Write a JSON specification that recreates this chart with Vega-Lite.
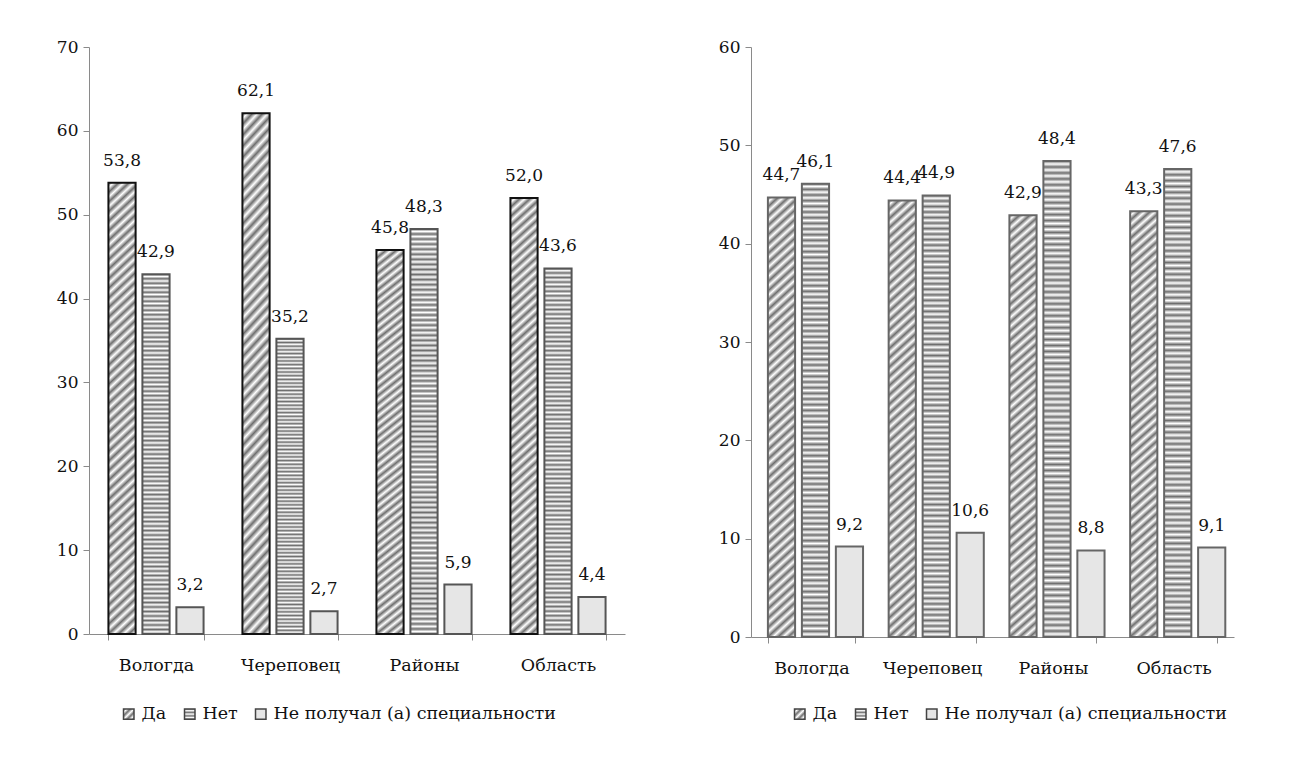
{
  "$schema": "https://vega.github.io/schema/vega-lite/v6.json",
  "padding": {"left": 56, "top": 38, "right": 5, "bottom": 5},
  "background": "white",
  "config": {
    "locale": {"number": {"decimal": ",", "thousands": " ", "grouping": [3], "currency": ["", " ₽"]}},
    "font": "DejaVu Serif",
    "view": {"stroke": null},
    "axis": {"labelFont": "DejaVu Serif", "labelFontSize": 17, "labelColor": "#111", "domainColor": "#8a8a8a", "tickColor": "#8a8a8a", "tickSize": 6, "grid": false, "title": null},
    "legend": {"orient": "none", "direction": "horizontal", "title": null, "labelFont": "DejaVu Serif", "labelFontSize": 17.5, "labelColor": "#111", "labelLimit": 0, "symbolType": "square", "symbolSize": 110, "symbolOpacity": 1, "symbolStrokeColor": "#444", "symbolStrokeWidth": 1.5, "columnPadding": 14, "labelOffset": 4}
  },
  "datasets": {
    "d": [
      {"panel": "L", "city": "Вологда", "answer": "Да", "value": 53.8},
      {"panel": "L", "city": "Вологда", "answer": "Нет", "value": 42.9},
      {"panel": "L", "city": "Вологда", "answer": "Не получал (а) специальности", "value": 3.2},
      {"panel": "L", "city": "Череповец", "answer": "Да", "value": 62.1},
      {"panel": "L", "city": "Череповец", "answer": "Нет", "value": 35.2},
      {"panel": "L", "city": "Череповец", "answer": "Не получал (а) специальности", "value": 2.7},
      {"panel": "L", "city": "Районы", "answer": "Да", "value": 45.8},
      {"panel": "L", "city": "Районы", "answer": "Нет", "value": 48.3},
      {"panel": "L", "city": "Районы", "answer": "Не получал (а) специальности", "value": 5.9},
      {"panel": "L", "city": "Область", "answer": "Да", "value": 52.0},
      {"panel": "L", "city": "Область", "answer": "Нет", "value": 43.6},
      {"panel": "L", "city": "Область", "answer": "Не получал (а) специальности", "value": 4.4},
      {"panel": "R", "city": "Вологда", "answer": "Да", "value": 44.7},
      {"panel": "R", "city": "Вологда", "answer": "Нет", "value": 46.1},
      {"panel": "R", "city": "Вологда", "answer": "Не получал (а) специальности", "value": 9.2},
      {"panel": "R", "city": "Череповец", "answer": "Да", "value": 44.4},
      {"panel": "R", "city": "Череповец", "answer": "Нет", "value": 44.9},
      {"panel": "R", "city": "Череповец", "answer": "Не получал (а) специальности", "value": 10.6},
      {"panel": "R", "city": "Районы", "answer": "Да", "value": 42.9},
      {"panel": "R", "city": "Районы", "answer": "Нет", "value": 48.4},
      {"panel": "R", "city": "Районы", "answer": "Не получал (а) специальности", "value": 8.8},
      {"panel": "R", "city": "Область", "answer": "Да", "value": 43.3},
      {"panel": "R", "city": "Область", "answer": "Нет", "value": 47.6},
      {"panel": "R", "city": "Область", "answer": "Не получал (а) специальности", "value": 9.1}
    ]
  },
  "data": {"name": "d"},
  "spacing": 93,
  "resolve": {"scale": {"color": "independent", "x": "independent", "y": "independent"}, "legend": {"color": "independent"}},
  "hconcat": [
    {
      "width": 536,
      "height": 587,
      "transform": [{"filter": "datum.panel === 'L'"}],
      "encoding": {
        "x": {"field": "city", "type": "nominal", "sort": ["Вологда", "Череповец", "Районы", "Область"], "scale": {"paddingInner": 0.29, "paddingOuter": 0.145}, "axis": {"labelAngle": 0, "tickBand": "extent", "labelPadding": 16, "labelFontSize": 17.5}},
        "xOffset": {"field": "answer", "type": "nominal", "scale": {"domain": ["Да", "Нет", "Не получал (а) специальности"], "paddingInner": 0.2, "paddingOuter": 0}},
        "y": {"field": "value", "type": "quantitative", "scale": {"domain": [0, 70], "nice": false}, "axis": {"values": [0, 10, 20, 30, 40, 50, 60, 70], "labelPadding": 5}}
      },
      "layer": [
        {
          "transform": [{"filter": "datum.answer === 'Да'"}],
          "mark": {"type": "bar", "stroke": "#111", "strokeWidth": 2, "fill": {"gradient": "linear", "x1": 0, "y1": 0, "x2": 0.06, "y2": 1.06, "stops": [
{"offset":0,"color":"#6e6e6e"},{"offset":0.01,"color":"#fff"},{"offset":0.02,"color":"#6e6e6e"},{"offset":0.03,"color":"#fff"},{"offset":0.04,"color":"#6e6e6e"},{"offset":0.05,"color":"#fff"},{"offset":0.06,"color":"#6e6e6e"},{"offset":0.07,"color":"#fff"},{"offset":0.08,"color":"#6e6e6e"},{"offset":0.09,"color":"#fff"},
{"offset":0.1,"color":"#6e6e6e"},{"offset":0.11,"color":"#fff"},{"offset":0.12,"color":"#6e6e6e"},{"offset":0.13,"color":"#fff"},{"offset":0.14,"color":"#6e6e6e"},{"offset":0.15,"color":"#fff"},{"offset":0.16,"color":"#6e6e6e"},{"offset":0.17,"color":"#fff"},{"offset":0.18,"color":"#6e6e6e"},{"offset":0.19,"color":"#fff"},
{"offset":0.2,"color":"#6e6e6e"},{"offset":0.21,"color":"#fff"},{"offset":0.22,"color":"#6e6e6e"},{"offset":0.23,"color":"#fff"},{"offset":0.24,"color":"#6e6e6e"},{"offset":0.25,"color":"#fff"},{"offset":0.26,"color":"#6e6e6e"},{"offset":0.27,"color":"#fff"},{"offset":0.28,"color":"#6e6e6e"},{"offset":0.29,"color":"#fff"},
{"offset":0.3,"color":"#6e6e6e"},{"offset":0.31,"color":"#fff"},{"offset":0.32,"color":"#6e6e6e"},{"offset":0.33,"color":"#fff"},{"offset":0.34,"color":"#6e6e6e"},{"offset":0.35,"color":"#fff"},{"offset":0.36,"color":"#6e6e6e"},{"offset":0.37,"color":"#fff"},{"offset":0.38,"color":"#6e6e6e"},{"offset":0.39,"color":"#fff"},
{"offset":0.4,"color":"#6e6e6e"},{"offset":0.41,"color":"#fff"},{"offset":0.42,"color":"#6e6e6e"},{"offset":0.43,"color":"#fff"},{"offset":0.44,"color":"#6e6e6e"},{"offset":0.45,"color":"#fff"},{"offset":0.46,"color":"#6e6e6e"},{"offset":0.47,"color":"#fff"},{"offset":0.48,"color":"#6e6e6e"},{"offset":0.49,"color":"#fff"},
{"offset":0.5,"color":"#6e6e6e"},{"offset":0.51,"color":"#fff"},{"offset":0.52,"color":"#6e6e6e"},{"offset":0.53,"color":"#fff"},{"offset":0.54,"color":"#6e6e6e"},{"offset":0.55,"color":"#fff"},{"offset":0.56,"color":"#6e6e6e"},{"offset":0.57,"color":"#fff"},{"offset":0.58,"color":"#6e6e6e"},{"offset":0.59,"color":"#fff"},
{"offset":0.6,"color":"#6e6e6e"},{"offset":0.61,"color":"#fff"},{"offset":0.62,"color":"#6e6e6e"},{"offset":0.63,"color":"#fff"},{"offset":0.64,"color":"#6e6e6e"},{"offset":0.65,"color":"#fff"},{"offset":0.66,"color":"#6e6e6e"},{"offset":0.67,"color":"#fff"},{"offset":0.68,"color":"#6e6e6e"},{"offset":0.69,"color":"#fff"},
{"offset":0.7,"color":"#6e6e6e"},{"offset":0.71,"color":"#fff"},{"offset":0.72,"color":"#6e6e6e"},{"offset":0.73,"color":"#fff"},{"offset":0.74,"color":"#6e6e6e"},{"offset":0.75,"color":"#fff"},{"offset":0.76,"color":"#6e6e6e"},{"offset":0.77,"color":"#fff"},{"offset":0.78,"color":"#6e6e6e"},{"offset":0.79,"color":"#fff"},
{"offset":0.8,"color":"#6e6e6e"},{"offset":0.81,"color":"#fff"},{"offset":0.82,"color":"#6e6e6e"},{"offset":0.83,"color":"#fff"},{"offset":0.84,"color":"#6e6e6e"},{"offset":0.85,"color":"#fff"},{"offset":0.86,"color":"#6e6e6e"},{"offset":0.87,"color":"#fff"},{"offset":0.88,"color":"#6e6e6e"},{"offset":0.89,"color":"#fff"},
{"offset":0.9,"color":"#6e6e6e"},{"offset":0.91,"color":"#fff"},{"offset":0.92,"color":"#6e6e6e"},{"offset":0.93,"color":"#fff"},{"offset":0.94,"color":"#6e6e6e"},{"offset":0.95,"color":"#fff"},{"offset":0.96,"color":"#6e6e6e"},{"offset":0.97,"color":"#fff"},{"offset":0.98,"color":"#6e6e6e"},{"offset":0.99,"color":"#fff"},
{"offset":1,"color":"#6e6e6e"}]}}
        },
        {
          "transform": [{"filter": "datum.answer === 'Нет'"}],
          "mark": {"type": "bar", "stroke": "#555", "strokeWidth": 2, "fill": {"gradient": "linear", "x1": 0, "y1": 0, "x2": 0, "y2": 1, "stops": [
{"offset":0,"color":"#6e6e6e"},{"offset":0.00625,"color":"#fff"},{"offset":0.0125,"color":"#6e6e6e"},{"offset":0.01875,"color":"#fff"},{"offset":0.025,"color":"#6e6e6e"},{"offset":0.03125,"color":"#fff"},{"offset":0.0375,"color":"#6e6e6e"},{"offset":0.04375,"color":"#fff"},{"offset":0.05,"color":"#6e6e6e"},{"offset":0.05625,"color":"#fff"},{"offset":0.0625,"color":"#6e6e6e"},{"offset":0.06875,"color":"#fff"},{"offset":0.075,"color":"#6e6e6e"},{"offset":0.08125,"color":"#fff"},{"offset":0.0875,"color":"#6e6e6e"},{"offset":0.09375,"color":"#fff"},
{"offset":0.1,"color":"#6e6e6e"},{"offset":0.10625,"color":"#fff"},{"offset":0.1125,"color":"#6e6e6e"},{"offset":0.11875,"color":"#fff"},{"offset":0.125,"color":"#6e6e6e"},{"offset":0.13125,"color":"#fff"},{"offset":0.1375,"color":"#6e6e6e"},{"offset":0.14375,"color":"#fff"},{"offset":0.15,"color":"#6e6e6e"},{"offset":0.15625,"color":"#fff"},{"offset":0.1625,"color":"#6e6e6e"},{"offset":0.16875,"color":"#fff"},{"offset":0.175,"color":"#6e6e6e"},{"offset":0.18125,"color":"#fff"},{"offset":0.1875,"color":"#6e6e6e"},{"offset":0.19375,"color":"#fff"},
{"offset":0.2,"color":"#6e6e6e"},{"offset":0.20625,"color":"#fff"},{"offset":0.2125,"color":"#6e6e6e"},{"offset":0.21875,"color":"#fff"},{"offset":0.225,"color":"#6e6e6e"},{"offset":0.23125,"color":"#fff"},{"offset":0.2375,"color":"#6e6e6e"},{"offset":0.24375,"color":"#fff"},{"offset":0.25,"color":"#6e6e6e"},{"offset":0.25625,"color":"#fff"},{"offset":0.2625,"color":"#6e6e6e"},{"offset":0.26875,"color":"#fff"},{"offset":0.275,"color":"#6e6e6e"},{"offset":0.28125,"color":"#fff"},{"offset":0.2875,"color":"#6e6e6e"},{"offset":0.29375,"color":"#fff"},
{"offset":0.3,"color":"#6e6e6e"},{"offset":0.30625,"color":"#fff"},{"offset":0.3125,"color":"#6e6e6e"},{"offset":0.31875,"color":"#fff"},{"offset":0.325,"color":"#6e6e6e"},{"offset":0.33125,"color":"#fff"},{"offset":0.3375,"color":"#6e6e6e"},{"offset":0.34375,"color":"#fff"},{"offset":0.35,"color":"#6e6e6e"},{"offset":0.35625,"color":"#fff"},{"offset":0.3625,"color":"#6e6e6e"},{"offset":0.36875,"color":"#fff"},{"offset":0.375,"color":"#6e6e6e"},{"offset":0.38125,"color":"#fff"},{"offset":0.3875,"color":"#6e6e6e"},{"offset":0.39375,"color":"#fff"},
{"offset":0.4,"color":"#6e6e6e"},{"offset":0.40625,"color":"#fff"},{"offset":0.4125,"color":"#6e6e6e"},{"offset":0.41875,"color":"#fff"},{"offset":0.425,"color":"#6e6e6e"},{"offset":0.43125,"color":"#fff"},{"offset":0.4375,"color":"#6e6e6e"},{"offset":0.44375,"color":"#fff"},{"offset":0.45,"color":"#6e6e6e"},{"offset":0.45625,"color":"#fff"},{"offset":0.4625,"color":"#6e6e6e"},{"offset":0.46875,"color":"#fff"},{"offset":0.475,"color":"#6e6e6e"},{"offset":0.48125,"color":"#fff"},{"offset":0.4875,"color":"#6e6e6e"},{"offset":0.49375,"color":"#fff"},
{"offset":0.5,"color":"#6e6e6e"},{"offset":0.50625,"color":"#fff"},{"offset":0.5125,"color":"#6e6e6e"},{"offset":0.51875,"color":"#fff"},{"offset":0.525,"color":"#6e6e6e"},{"offset":0.53125,"color":"#fff"},{"offset":0.5375,"color":"#6e6e6e"},{"offset":0.54375,"color":"#fff"},{"offset":0.55,"color":"#6e6e6e"},{"offset":0.55625,"color":"#fff"},{"offset":0.5625,"color":"#6e6e6e"},{"offset":0.56875,"color":"#fff"},{"offset":0.575,"color":"#6e6e6e"},{"offset":0.58125,"color":"#fff"},{"offset":0.5875,"color":"#6e6e6e"},{"offset":0.59375,"color":"#fff"},
{"offset":0.6,"color":"#6e6e6e"},{"offset":0.60625,"color":"#fff"},{"offset":0.6125,"color":"#6e6e6e"},{"offset":0.61875,"color":"#fff"},{"offset":0.625,"color":"#6e6e6e"},{"offset":0.63125,"color":"#fff"},{"offset":0.6375,"color":"#6e6e6e"},{"offset":0.64375,"color":"#fff"},{"offset":0.65,"color":"#6e6e6e"},{"offset":0.65625,"color":"#fff"},{"offset":0.6625,"color":"#6e6e6e"},{"offset":0.66875,"color":"#fff"},{"offset":0.675,"color":"#6e6e6e"},{"offset":0.68125,"color":"#fff"},{"offset":0.6875,"color":"#6e6e6e"},{"offset":0.69375,"color":"#fff"},
{"offset":0.7,"color":"#6e6e6e"},{"offset":0.70625,"color":"#fff"},{"offset":0.7125,"color":"#6e6e6e"},{"offset":0.71875,"color":"#fff"},{"offset":0.725,"color":"#6e6e6e"},{"offset":0.73125,"color":"#fff"},{"offset":0.7375,"color":"#6e6e6e"},{"offset":0.74375,"color":"#fff"},{"offset":0.75,"color":"#6e6e6e"},{"offset":0.75625,"color":"#fff"},{"offset":0.7625,"color":"#6e6e6e"},{"offset":0.76875,"color":"#fff"},{"offset":0.775,"color":"#6e6e6e"},{"offset":0.78125,"color":"#fff"},{"offset":0.7875,"color":"#6e6e6e"},{"offset":0.79375,"color":"#fff"},
{"offset":0.8,"color":"#6e6e6e"},{"offset":0.80625,"color":"#fff"},{"offset":0.8125,"color":"#6e6e6e"},{"offset":0.81875,"color":"#fff"},{"offset":0.825,"color":"#6e6e6e"},{"offset":0.83125,"color":"#fff"},{"offset":0.8375,"color":"#6e6e6e"},{"offset":0.84375,"color":"#fff"},{"offset":0.85,"color":"#6e6e6e"},{"offset":0.85625,"color":"#fff"},{"offset":0.8625,"color":"#6e6e6e"},{"offset":0.86875,"color":"#fff"},{"offset":0.875,"color":"#6e6e6e"},{"offset":0.88125,"color":"#fff"},{"offset":0.8875,"color":"#6e6e6e"},{"offset":0.89375,"color":"#fff"},
{"offset":0.9,"color":"#6e6e6e"},{"offset":0.90625,"color":"#fff"},{"offset":0.9125,"color":"#6e6e6e"},{"offset":0.91875,"color":"#fff"},{"offset":0.925,"color":"#6e6e6e"},{"offset":0.93125,"color":"#fff"},{"offset":0.9375,"color":"#6e6e6e"},{"offset":0.94375,"color":"#fff"},{"offset":0.95,"color":"#6e6e6e"},{"offset":0.95625,"color":"#fff"},{"offset":0.9625,"color":"#6e6e6e"},{"offset":0.96875,"color":"#fff"},{"offset":0.975,"color":"#6e6e6e"},{"offset":0.98125,"color":"#fff"},{"offset":0.9875,"color":"#6e6e6e"},{"offset":0.99375,"color":"#fff"},
{"offset":1,"color":"#6e6e6e"}]}}
        },
        {
          "transform": [{"filter": "datum.answer === 'Не получал (а) специальности'"}],
          "mark": {"type": "bar", "stroke": "#555", "strokeWidth": 2, "fill": "#e6e6e6"}
        },
        {
          "mark": {"type": "square", "opacity": 0},
          "encoding": {
            "color": {
              "field": "answer", "type": "nominal",
              "scale": {"domain": ["Да", "Нет", "Не получал (а) специальности"], "range": [
                {"expr": "{gradient:'linear',x1:0,y1:0,x2:1,y2:1,stops:[{offset:0,color:'#6e6e6e'},{offset:0.17,color:'#fff'},{offset:0.33,color:'#6e6e6e'},{offset:0.5,color:'#fff'},{offset:0.67,color:'#6e6e6e'},{offset:0.83,color:'#fff'},{offset:1,color:'#6e6e6e'}]}"},
                {"expr": "{gradient:'linear',x1:0,y1:0,x2:0,y2:1,stops:[{offset:0,color:'#6e6e6e'},{offset:0.17,color:'#fff'},{offset:0.33,color:'#6e6e6e'},{offset:0.5,color:'#fff'},{offset:0.67,color:'#6e6e6e'},{offset:0.83,color:'#fff'},{offset:1,color:'#6e6e6e'}]}"},
                "#e6e6e6"]},
              "legend": {"legendX": 31, "legendY": 658}
            }
          }
        },
        {
          "mark": {"type": "text", "dy": -17, "baseline": "alphabetic", "fontSize": 17, "font": "DejaVu Serif", "color": "#111"},
          "encoding": {"text": {"field": "value", "type": "quantitative", "format": ".1f"}}
        }
      ]
    },
    {
      "width": 483,
      "height": 590,
      "transform": [{"filter": "datum.panel === 'R'"}],
      "encoding": {
        "x": {"field": "city", "type": "nominal", "sort": ["Вологда", "Череповец", "Районы", "Область"], "scale": {"paddingInner": 0.28, "paddingOuter": 0.14}, "axis": {"labelAngle": 0, "tickBand": "extent", "labelPadding": 16, "labelFontSize": 17.5}},
        "xOffset": {"field": "answer", "type": "nominal", "scale": {"domain": ["Да", "Нет", "Не получал (а) специальности"], "paddingInner": 0.2, "paddingOuter": 0}},
        "y": {"field": "value", "type": "quantitative", "scale": {"domain": [0, 60], "nice": false}, "axis": {"values": [0, 10, 20, 30, 40, 50, 60], "labelPadding": 5}}
      },
      "layer": [
        {
          "transform": [{"filter": "datum.answer === 'Да'"}],
          "mark": {"type": "bar", "stroke": "#666", "strokeWidth": 2, "fill": {"gradient": "linear", "x1": 0, "y1": 0, "x2": 0.06, "y2": 1.06, "stops": [
{"offset":0,"color":"#6e6e6e"},{"offset":0.01,"color":"#fff"},{"offset":0.02,"color":"#6e6e6e"},{"offset":0.03,"color":"#fff"},{"offset":0.04,"color":"#6e6e6e"},{"offset":0.05,"color":"#fff"},{"offset":0.06,"color":"#6e6e6e"},{"offset":0.07,"color":"#fff"},{"offset":0.08,"color":"#6e6e6e"},{"offset":0.09,"color":"#fff"},
{"offset":0.1,"color":"#6e6e6e"},{"offset":0.11,"color":"#fff"},{"offset":0.12,"color":"#6e6e6e"},{"offset":0.13,"color":"#fff"},{"offset":0.14,"color":"#6e6e6e"},{"offset":0.15,"color":"#fff"},{"offset":0.16,"color":"#6e6e6e"},{"offset":0.17,"color":"#fff"},{"offset":0.18,"color":"#6e6e6e"},{"offset":0.19,"color":"#fff"},
{"offset":0.2,"color":"#6e6e6e"},{"offset":0.21,"color":"#fff"},{"offset":0.22,"color":"#6e6e6e"},{"offset":0.23,"color":"#fff"},{"offset":0.24,"color":"#6e6e6e"},{"offset":0.25,"color":"#fff"},{"offset":0.26,"color":"#6e6e6e"},{"offset":0.27,"color":"#fff"},{"offset":0.28,"color":"#6e6e6e"},{"offset":0.29,"color":"#fff"},
{"offset":0.3,"color":"#6e6e6e"},{"offset":0.31,"color":"#fff"},{"offset":0.32,"color":"#6e6e6e"},{"offset":0.33,"color":"#fff"},{"offset":0.34,"color":"#6e6e6e"},{"offset":0.35,"color":"#fff"},{"offset":0.36,"color":"#6e6e6e"},{"offset":0.37,"color":"#fff"},{"offset":0.38,"color":"#6e6e6e"},{"offset":0.39,"color":"#fff"},
{"offset":0.4,"color":"#6e6e6e"},{"offset":0.41,"color":"#fff"},{"offset":0.42,"color":"#6e6e6e"},{"offset":0.43,"color":"#fff"},{"offset":0.44,"color":"#6e6e6e"},{"offset":0.45,"color":"#fff"},{"offset":0.46,"color":"#6e6e6e"},{"offset":0.47,"color":"#fff"},{"offset":0.48,"color":"#6e6e6e"},{"offset":0.49,"color":"#fff"},
{"offset":0.5,"color":"#6e6e6e"},{"offset":0.51,"color":"#fff"},{"offset":0.52,"color":"#6e6e6e"},{"offset":0.53,"color":"#fff"},{"offset":0.54,"color":"#6e6e6e"},{"offset":0.55,"color":"#fff"},{"offset":0.56,"color":"#6e6e6e"},{"offset":0.57,"color":"#fff"},{"offset":0.58,"color":"#6e6e6e"},{"offset":0.59,"color":"#fff"},
{"offset":0.6,"color":"#6e6e6e"},{"offset":0.61,"color":"#fff"},{"offset":0.62,"color":"#6e6e6e"},{"offset":0.63,"color":"#fff"},{"offset":0.64,"color":"#6e6e6e"},{"offset":0.65,"color":"#fff"},{"offset":0.66,"color":"#6e6e6e"},{"offset":0.67,"color":"#fff"},{"offset":0.68,"color":"#6e6e6e"},{"offset":0.69,"color":"#fff"},
{"offset":0.7,"color":"#6e6e6e"},{"offset":0.71,"color":"#fff"},{"offset":0.72,"color":"#6e6e6e"},{"offset":0.73,"color":"#fff"},{"offset":0.74,"color":"#6e6e6e"},{"offset":0.75,"color":"#fff"},{"offset":0.76,"color":"#6e6e6e"},{"offset":0.77,"color":"#fff"},{"offset":0.78,"color":"#6e6e6e"},{"offset":0.79,"color":"#fff"},
{"offset":0.8,"color":"#6e6e6e"},{"offset":0.81,"color":"#fff"},{"offset":0.82,"color":"#6e6e6e"},{"offset":0.83,"color":"#fff"},{"offset":0.84,"color":"#6e6e6e"},{"offset":0.85,"color":"#fff"},{"offset":0.86,"color":"#6e6e6e"},{"offset":0.87,"color":"#fff"},{"offset":0.88,"color":"#6e6e6e"},{"offset":0.89,"color":"#fff"},
{"offset":0.9,"color":"#6e6e6e"},{"offset":0.91,"color":"#fff"},{"offset":0.92,"color":"#6e6e6e"},{"offset":0.93,"color":"#fff"},{"offset":0.94,"color":"#6e6e6e"},{"offset":0.95,"color":"#fff"},{"offset":0.96,"color":"#6e6e6e"},{"offset":0.97,"color":"#fff"},{"offset":0.98,"color":"#6e6e6e"},{"offset":0.99,"color":"#fff"},
{"offset":1,"color":"#6e6e6e"}]}}
        },
        {
          "transform": [{"filter": "datum.answer === 'Нет'"}],
          "mark": {"type": "bar", "stroke": "#666", "strokeWidth": 2, "fill": {"gradient": "linear", "x1": 0, "y1": 0, "x2": 0, "y2": 1, "stops": [
{"offset":0,"color":"#6e6e6e"},{"offset":0.00625,"color":"#fff"},{"offset":0.0125,"color":"#6e6e6e"},{"offset":0.01875,"color":"#fff"},{"offset":0.025,"color":"#6e6e6e"},{"offset":0.03125,"color":"#fff"},{"offset":0.0375,"color":"#6e6e6e"},{"offset":0.04375,"color":"#fff"},{"offset":0.05,"color":"#6e6e6e"},{"offset":0.05625,"color":"#fff"},{"offset":0.0625,"color":"#6e6e6e"},{"offset":0.06875,"color":"#fff"},{"offset":0.075,"color":"#6e6e6e"},{"offset":0.08125,"color":"#fff"},{"offset":0.0875,"color":"#6e6e6e"},{"offset":0.09375,"color":"#fff"},
{"offset":0.1,"color":"#6e6e6e"},{"offset":0.10625,"color":"#fff"},{"offset":0.1125,"color":"#6e6e6e"},{"offset":0.11875,"color":"#fff"},{"offset":0.125,"color":"#6e6e6e"},{"offset":0.13125,"color":"#fff"},{"offset":0.1375,"color":"#6e6e6e"},{"offset":0.14375,"color":"#fff"},{"offset":0.15,"color":"#6e6e6e"},{"offset":0.15625,"color":"#fff"},{"offset":0.1625,"color":"#6e6e6e"},{"offset":0.16875,"color":"#fff"},{"offset":0.175,"color":"#6e6e6e"},{"offset":0.18125,"color":"#fff"},{"offset":0.1875,"color":"#6e6e6e"},{"offset":0.19375,"color":"#fff"},
{"offset":0.2,"color":"#6e6e6e"},{"offset":0.20625,"color":"#fff"},{"offset":0.2125,"color":"#6e6e6e"},{"offset":0.21875,"color":"#fff"},{"offset":0.225,"color":"#6e6e6e"},{"offset":0.23125,"color":"#fff"},{"offset":0.2375,"color":"#6e6e6e"},{"offset":0.24375,"color":"#fff"},{"offset":0.25,"color":"#6e6e6e"},{"offset":0.25625,"color":"#fff"},{"offset":0.2625,"color":"#6e6e6e"},{"offset":0.26875,"color":"#fff"},{"offset":0.275,"color":"#6e6e6e"},{"offset":0.28125,"color":"#fff"},{"offset":0.2875,"color":"#6e6e6e"},{"offset":0.29375,"color":"#fff"},
{"offset":0.3,"color":"#6e6e6e"},{"offset":0.30625,"color":"#fff"},{"offset":0.3125,"color":"#6e6e6e"},{"offset":0.31875,"color":"#fff"},{"offset":0.325,"color":"#6e6e6e"},{"offset":0.33125,"color":"#fff"},{"offset":0.3375,"color":"#6e6e6e"},{"offset":0.34375,"color":"#fff"},{"offset":0.35,"color":"#6e6e6e"},{"offset":0.35625,"color":"#fff"},{"offset":0.3625,"color":"#6e6e6e"},{"offset":0.36875,"color":"#fff"},{"offset":0.375,"color":"#6e6e6e"},{"offset":0.38125,"color":"#fff"},{"offset":0.3875,"color":"#6e6e6e"},{"offset":0.39375,"color":"#fff"},
{"offset":0.4,"color":"#6e6e6e"},{"offset":0.40625,"color":"#fff"},{"offset":0.4125,"color":"#6e6e6e"},{"offset":0.41875,"color":"#fff"},{"offset":0.425,"color":"#6e6e6e"},{"offset":0.43125,"color":"#fff"},{"offset":0.4375,"color":"#6e6e6e"},{"offset":0.44375,"color":"#fff"},{"offset":0.45,"color":"#6e6e6e"},{"offset":0.45625,"color":"#fff"},{"offset":0.4625,"color":"#6e6e6e"},{"offset":0.46875,"color":"#fff"},{"offset":0.475,"color":"#6e6e6e"},{"offset":0.48125,"color":"#fff"},{"offset":0.4875,"color":"#6e6e6e"},{"offset":0.49375,"color":"#fff"},
{"offset":0.5,"color":"#6e6e6e"},{"offset":0.50625,"color":"#fff"},{"offset":0.5125,"color":"#6e6e6e"},{"offset":0.51875,"color":"#fff"},{"offset":0.525,"color":"#6e6e6e"},{"offset":0.53125,"color":"#fff"},{"offset":0.5375,"color":"#6e6e6e"},{"offset":0.54375,"color":"#fff"},{"offset":0.55,"color":"#6e6e6e"},{"offset":0.55625,"color":"#fff"},{"offset":0.5625,"color":"#6e6e6e"},{"offset":0.56875,"color":"#fff"},{"offset":0.575,"color":"#6e6e6e"},{"offset":0.58125,"color":"#fff"},{"offset":0.5875,"color":"#6e6e6e"},{"offset":0.59375,"color":"#fff"},
{"offset":0.6,"color":"#6e6e6e"},{"offset":0.60625,"color":"#fff"},{"offset":0.6125,"color":"#6e6e6e"},{"offset":0.61875,"color":"#fff"},{"offset":0.625,"color":"#6e6e6e"},{"offset":0.63125,"color":"#fff"},{"offset":0.6375,"color":"#6e6e6e"},{"offset":0.64375,"color":"#fff"},{"offset":0.65,"color":"#6e6e6e"},{"offset":0.65625,"color":"#fff"},{"offset":0.6625,"color":"#6e6e6e"},{"offset":0.66875,"color":"#fff"},{"offset":0.675,"color":"#6e6e6e"},{"offset":0.68125,"color":"#fff"},{"offset":0.6875,"color":"#6e6e6e"},{"offset":0.69375,"color":"#fff"},
{"offset":0.7,"color":"#6e6e6e"},{"offset":0.70625,"color":"#fff"},{"offset":0.7125,"color":"#6e6e6e"},{"offset":0.71875,"color":"#fff"},{"offset":0.725,"color":"#6e6e6e"},{"offset":0.73125,"color":"#fff"},{"offset":0.7375,"color":"#6e6e6e"},{"offset":0.74375,"color":"#fff"},{"offset":0.75,"color":"#6e6e6e"},{"offset":0.75625,"color":"#fff"},{"offset":0.7625,"color":"#6e6e6e"},{"offset":0.76875,"color":"#fff"},{"offset":0.775,"color":"#6e6e6e"},{"offset":0.78125,"color":"#fff"},{"offset":0.7875,"color":"#6e6e6e"},{"offset":0.79375,"color":"#fff"},
{"offset":0.8,"color":"#6e6e6e"},{"offset":0.80625,"color":"#fff"},{"offset":0.8125,"color":"#6e6e6e"},{"offset":0.81875,"color":"#fff"},{"offset":0.825,"color":"#6e6e6e"},{"offset":0.83125,"color":"#fff"},{"offset":0.8375,"color":"#6e6e6e"},{"offset":0.84375,"color":"#fff"},{"offset":0.85,"color":"#6e6e6e"},{"offset":0.85625,"color":"#fff"},{"offset":0.8625,"color":"#6e6e6e"},{"offset":0.86875,"color":"#fff"},{"offset":0.875,"color":"#6e6e6e"},{"offset":0.88125,"color":"#fff"},{"offset":0.8875,"color":"#6e6e6e"},{"offset":0.89375,"color":"#fff"},
{"offset":0.9,"color":"#6e6e6e"},{"offset":0.90625,"color":"#fff"},{"offset":0.9125,"color":"#6e6e6e"},{"offset":0.91875,"color":"#fff"},{"offset":0.925,"color":"#6e6e6e"},{"offset":0.93125,"color":"#fff"},{"offset":0.9375,"color":"#6e6e6e"},{"offset":0.94375,"color":"#fff"},{"offset":0.95,"color":"#6e6e6e"},{"offset":0.95625,"color":"#fff"},{"offset":0.9625,"color":"#6e6e6e"},{"offset":0.96875,"color":"#fff"},{"offset":0.975,"color":"#6e6e6e"},{"offset":0.98125,"color":"#fff"},{"offset":0.9875,"color":"#6e6e6e"},{"offset":0.99375,"color":"#fff"},
{"offset":1,"color":"#6e6e6e"}]}}
        },
        {
          "transform": [{"filter": "datum.answer === 'Не получал (а) специальности'"}],
          "mark": {"type": "bar", "stroke": "#666", "strokeWidth": 2, "fill": "#e6e6e6"}
        },
        {
          "mark": {"type": "square", "opacity": 0},
          "encoding": {
            "color": {
              "field": "answer", "type": "nominal",
              "scale": {"domain": ["Да", "Нет", "Не получал (а) специальности"], "range": [
                {"expr": "{gradient:'linear',x1:0,y1:0,x2:1,y2:1,stops:[{offset:0,color:'#6e6e6e'},{offset:0.17,color:'#fff'},{offset:0.33,color:'#6e6e6e'},{offset:0.5,color:'#fff'},{offset:0.67,color:'#6e6e6e'},{offset:0.83,color:'#fff'},{offset:1,color:'#6e6e6e'}]}"},
                {"expr": "{gradient:'linear',x1:0,y1:0,x2:0,y2:1,stops:[{offset:0,color:'#6e6e6e'},{offset:0.17,color:'#fff'},{offset:0.33,color:'#6e6e6e'},{offset:0.5,color:'#fff'},{offset:0.67,color:'#6e6e6e'},{offset:0.83,color:'#fff'},{offset:1,color:'#6e6e6e'}]}"},
                "#e6e6e6"]},
              "legend": {"legendX": 40, "legendY": 658}
            }
          }
        },
        {
          "mark": {"type": "text", "dy": -17, "baseline": "alphabetic", "fontSize": 17, "font": "DejaVu Serif", "color": "#111"},
          "encoding": {"text": {"field": "value", "type": "quantitative", "format": ".1f"}}
        }
      ]
    }
  ]
}
